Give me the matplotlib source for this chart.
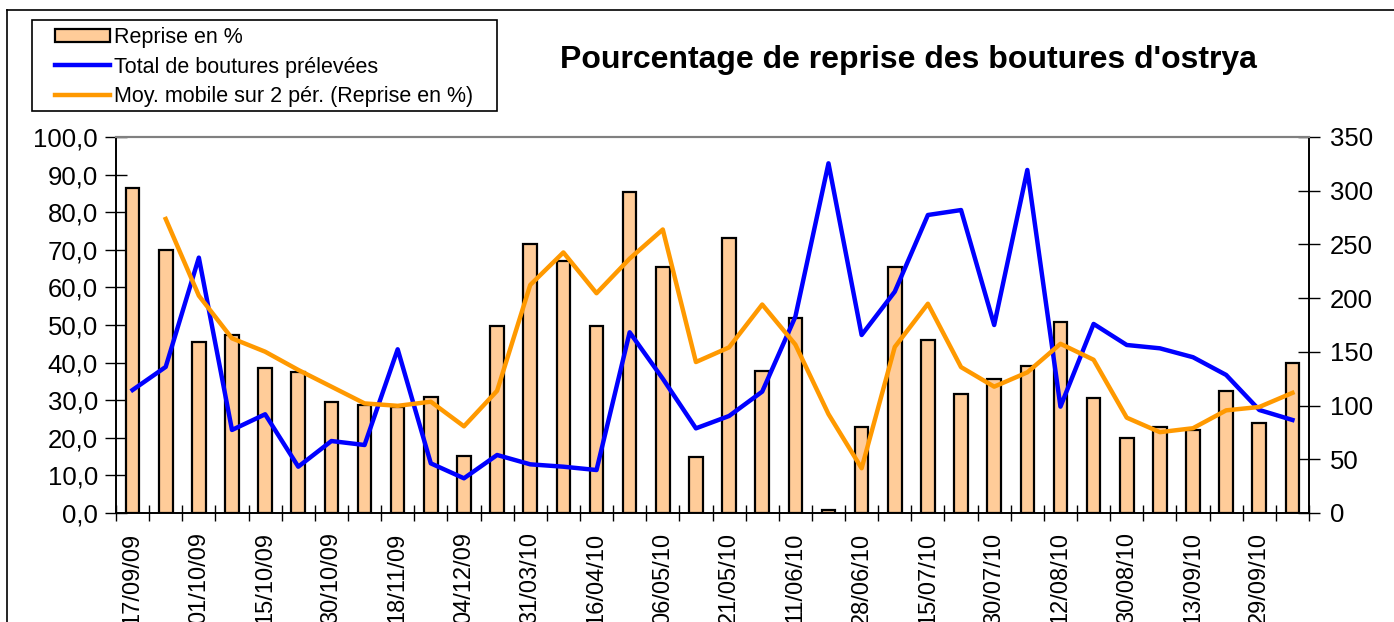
import matplotlib
matplotlib.use('Agg')
import matplotlib.pyplot as plt
from matplotlib.lines import Line2D
from matplotlib.patches import Rectangle
from matplotlib.ticker import FuncFormatter

plt.rcParams['font.family'] = ['Liberation Sans', 'DejaVu Sans']

# data
dates = ['17/09/09', '24/09/09', '01/10/09', '08/10/09', '15/10/09', '22/10/09',
         '30/10/09', '06/11/09', '18/11/09', '25/11/09', '04/12/09', '11/12/09',
         '31/03/10', '08/04/10', '16/04/10', '26/04/10', '06/05/10', '14/05/10',
         '21/05/10', '01/06/10', '11/06/10', '18/06/10', '28/06/10', '06/07/10',
         '15/07/10', '22/07/10', '30/07/10', '05/08/10', '12/08/10', '20/08/10',
         '30/08/10', '06/09/10', '13/09/10', '21/09/10', '29/09/10', '06/10/10']
reprise = [86.4, 70.0, 45.6, 47.3, 38.5, 37.6, 29.6, 28.7, 28.3, 30.9, 15.2, 49.8,
           71.5, 67.1, 49.8, 85.5, 65.3, 15.0, 73.1, 37.8, 51.8, 0.8, 23.0, 65.3,
           46.0, 31.6, 35.6, 39.2, 50.8, 30.7, 20.0, 23.0, 22.1, 32.5, 23.9, 40.0]
total = [114.5, 136, 237.7, 77.3, 91.9, 43.1, 67, 63.3, 152.4, 46.2, 32.3, 54,
         45.3, 43.1, 40, 168.2, 125, 78.8, 90.3, 113, 182.7, 325.5, 165.7, 206,
         277.4, 282, 175, 319.3, 99, 176, 156.4, 153.3, 145, 128.5, 95.9, 86.6]
# moving average over 2 periods (starts at the second date)
moy_mobile = [78.2, 57.8, 46.45, 42.9, 38.05, 33.6, 29.15, 28.5, 29.6, 23.05,
              32.5, 60.65, 69.3, 58.45, 67.65, 75.4, 40.15, 44.05, 55.45, 44.8,
              26.3, 11.9, 44.15, 55.65, 38.8, 33.6, 37.4, 45.0, 40.75, 25.35,
              21.5, 22.55, 27.3, 28.2, 31.95]

W, H = 1394, 622
fig = plt.figure(figsize=(W / 100, H / 100), dpi=100)
ax = fig.add_axes([116 / W, 1 - 513 / H, (1309 - 116) / W, (513 - 137) / H])
ax2 = ax.twinx()

x = list(range(len(dates)))
bars = ax.bar(x, reprise, width=0.41, color='#FFCC99', edgecolor='black',
              linewidth=1.6, label='Reprise en %', zorder=2)
ln1, = ax2.plot(x, total, color='#0000FF', lw=3.2,
                label='Total de boutures prélevées', zorder=3)
# orange line drawn on the top axes but in left-axis units
ln2, = ax2.plot(x[1:], moy_mobile, color='#FF9900', lw=3.2, transform=ax.transData,
                label='Moy. mobile sur 2 pér. (Reprise en %)', zorder=4)

ax.set_xlim(-0.5, len(dates) - 0.5)
ax.set_ylim(0, 100)
ax2.set_ylim(0, 350)
ax.set_yticks(range(0, 101, 10))
ax.yaxis.set_major_formatter(FuncFormatter(lambda v, p: ('%.1f' % v).replace('.', ',')))
ax2.set_yticks(range(0, 351, 50))

# tick marks between categories, labels under every other bar
ax.set_xticks([i - 0.5 for i in range(len(dates) + 1)])
ax.set_xticklabels([])
ax.set_xticks(x[::2], minor=True)
ax.set_xticklabels(dates[::2], minor=True, rotation=90, va='top', ha='center',
                   fontsize=17)
ax.tick_params(axis='x', which='minor', length=0, pad=14)
ax.tick_params(axis='x', which='major', direction='inout', length=12, width=1)
ax.tick_params(axis='y', direction='inout', length=16, width=1, labelsize=18.5, pad=5)
ax2.tick_params(axis='y', direction='inout', length=16, width=1, labelsize=18.5, pad=7)

for a in (ax, ax2):
    a.spines['top'].set_color('#808080')
    a.spines['top'].set_linewidth(1.5)
    for s in ('left', 'right', 'bottom'):
        a.spines[s].set_linewidth(1.2)

fig.text(908 / W, 1 - 60 / H, "Pourcentage de reprise des boutures d'ostrya",
         ha='center', va='center', fontsize=23, fontweight='bold')

leg = fig.legend(handles=[bars, ln1, ln2], loc='upper left',
                 bbox_to_anchor=(55 / W, 1 - 27 / H), fontsize=15.5,
                 frameon=False, handlelength=2.55, handletextpad=0.2,
                 handleheight=0.6, labelspacing=0.4, borderpad=0,
                 borderaxespad=0)
fig.add_artist(Rectangle((32 / W, 1 - 111 / H), 465 / W, 91 / H, fill=False,
                         ec='black', lw=1.2, transform=fig.transFigure))

# outer chart border (cut at right and bottom)
fig.add_artist(Line2D([7 / W, 1], [1 - 10 / H, 1 - 10 / H], color='black', lw=1.2))
fig.add_artist(Line2D([7 / W, 7 / W], [0, 1 - 10 / H], color='black', lw=1.2))

fig.savefig('out.png', dpi=100)
